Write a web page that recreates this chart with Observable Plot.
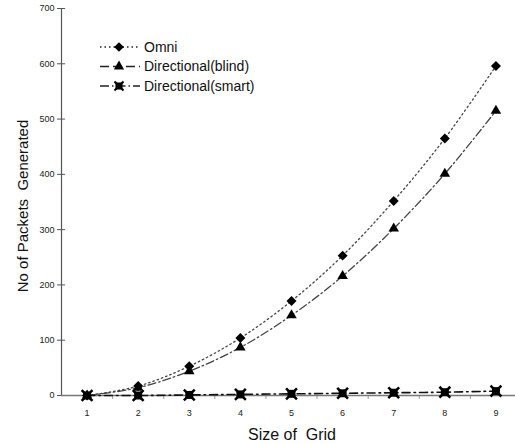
<!DOCTYPE html>
<html><head><meta charset="utf-8">
<script src="https://cdn.jsdelivr.net/npm/d3@7"></script>
<script src="https://cdn.jsdelivr.net/npm/@observablehq/plot@0.6"></script>
<style>body{margin:0;background:#fff}#c{position:relative;width:515px;height:444px}</style>
</head><body><div id="c"></div>
<script>
const grid = [1,2,3,4,5,6,7,8,9];
const omni = [0,17,53,104,171,253,352,465,596];
const blind = [0,14,44,87,145,216,302,401,515];
const smart = [0,0,1,2,3,4,5,6,8];
const yTicks = [0,100,200,300,400,500,600,700];
const seriesNames = ["Omni","Directional(blind)","Directional(smart)"];

const rows = (vals) => grid.map((g,i)=>({g, v: vals[i]}));
const O = rows(omni), B = rows(blind), S = rows(smart);
const font = "Liberation Sans, Arial, sans-serif";
const dashes = ["1.5,3", "8,3,1.5,3", "8,4,1.5,4"];

const chart = Plot.plot({
  width: 515, height: 444,
  marginLeft: 61, marginRight: 0, marginTop: 8, marginBottom: 49,
  style: {fontFamily: font, fontSize: "9px", color: "#222", background: "#fff", overflow: "visible"},
  x: {domain: [0.5, 9.5], range: [61, 521]},
  y: {domain: [0, 700], range: [395, 8]},
  marks: [
    Plot.axisY({ticks: yTicks, tickSize: 4, tickPadding: 3, stroke: "#555", label: null, fill: "#222"}),
    Plot.ruleY(yTicks, {x1: 0.5, x2: 0.58, stroke: "#555"}),
    Plot.axisX({ticks: grid, tickSize: 0, tickPadding: 14, label: null, fill: "#222"}),
    Plot.axisX({ticks: grid.slice(0,8).map(d=>d+0.5), tickSize: 4, tickFormat: () => "", stroke: "#999", label: null}),
    Plot.ruleX([0.5], {stroke: "#555", strokeWidth: 1.2}),
    Plot.ruleY([0], {stroke: "#777", strokeWidth: 1.6}),
    Plot.line(O, {x: "g", y: "v", curve: "catmull-rom", stroke: "#444", strokeWidth: 1.3, strokeDasharray: dashes[0]}),
    Plot.line(B, {x: "g", y: "v", curve: "catmull-rom", stroke: "#444", strokeWidth: 1.3, strokeDasharray: dashes[1]}),
    Plot.line(S, {x: "g", y: "v", curve: "catmull-rom", stroke: "#111", strokeWidth: 1.6, strokeDasharray: dashes[2]}),
    Plot.dot(S, {x: "g", y: "v", symbol: "square", r: 4.5, fill: "#000"}),
    Plot.dot(S, {x: "g", y: "v", symbol: "times", r: 5, stroke: "#000", strokeWidth: 2.5}),
    Plot.dot(B, {x: "g", y: "v", symbol: "triangle", r: 3.9, fill: "#000"}),
    Plot.dot(O, {x: "g", y: "v", symbol: "diamond2", r: 4.5, fill: "#000"})
  ]
});
document.getElementById("c").appendChild(chart);

const svg = d3.select(chart);
svg.append("text").attr("x", 292).attr("y", 440).attr("text-anchor", "middle")
  .style("font-family", font).style("font-size", "16px").style("white-space", "pre").attr("fill", "#111").text("Size of  Grid");
svg.append("text").attr("transform", "translate(28,206) rotate(-90)").attr("text-anchor", "middle")
  .style("font-family", font).style("font-size", "15px").style("white-space", "pre").attr("fill", "#111").text("No of Packets  Generated");

// legend
const lg = svg.append("g");
const symbols = [d3.symbolDiamond2, d3.symbolTriangle, d3.symbolSquare];
seriesNames.forEach((name, i) => {
  const y = 47 + i * 19.5;
  lg.append("line").attr("x1", 100).attr("x2", 140).attr("y1", y).attr("y2", y)
    .attr("stroke", "#222").attr("stroke-width", 1.4).attr("stroke-dasharray", i === 0 ? "1.5,3" : (i === 1 ? "9,4" : "9,3,1.5,3"));
  const size = i === 2 ? 50 : (i === 1 ? 45 : 60);
  lg.append("path").attr("transform", `translate(119,${y})`).attr("d", d3.symbol(symbols[i], size)()).attr("fill", "#000");
  if (i === 2) lg.append("path").attr("transform", `translate(119,${y})`).attr("d", d3.symbol(d3.symbolTimes, 55)()).attr("stroke", "#000").attr("stroke-width", 2);
  lg.append("text").attr("x", 144).attr("y", y).attr("dy", "0.35em").attr("text-anchor", "start")
    .style("font-family", font).style("font-size", "14px").attr("fill", "#111").text(name);
});
</script></body></html>
